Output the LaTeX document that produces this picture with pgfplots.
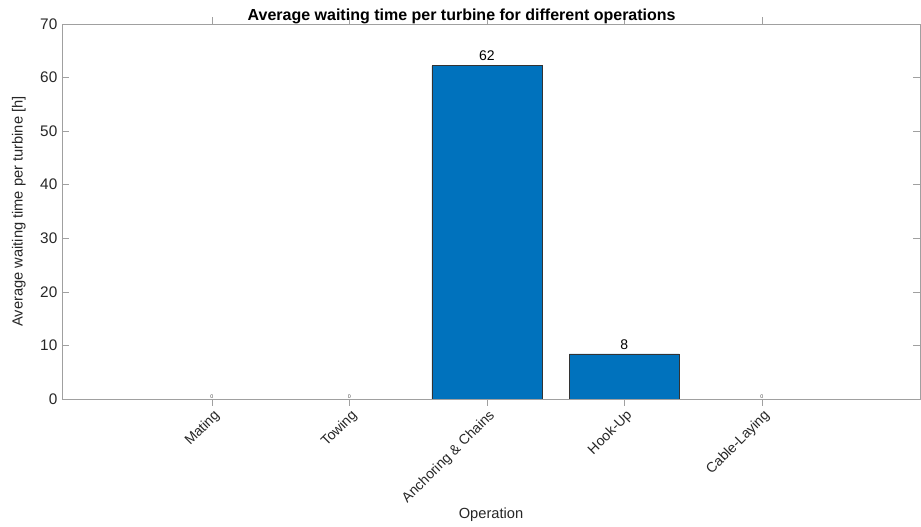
\documentclass[border=0pt]{standalone}
\usepackage{pgfplots}
\pgfplotsset{compat=1.18}
\usepackage{fontspec}
\setmainfont{Liberation Sans}
\definecolor{barblue}{HTML}{0072BD}
\definecolor{axgray}{HTML}{A0A0A0}
\definecolor{txt}{HTML}{262626}
\begin{document}
\begin{tikzpicture}
\begin{axis}[
  name=ax,
  scale only axis,
  width=643.5pt, height=281.25pt,
  xmin=-1.09, xmax=5.15,
  ymin=0, ymax=70,
  ytick={0,10,...,70},
  xtick={0,1,2,3,4},
  xticklabels={Mating,Towing,Anchoring \& Chains,Hook-Up,Cable-Laying},
  xticklabel style={rotate=45, anchor=north east, inner sep=1pt, yshift=-1pt, font=\fontsize{10.5}{12}\selectfont, text=txt},
  yticklabel style={font=\fontsize{11.5}{12}\selectfont, text=txt},
  /pgf/number format/assume math mode=true,
  tick align=inside,
  major tick length=5pt,
  axis line style={axgray},
  tick style={axgray},
  every tick/.style={axgray},
  title={\bfseries Average waiting time per turbine for different operations},
  title style={font=\fontsize{12}{13}\selectfont, yshift=-9.5pt, xshift=-22pt, text=black},
  xlabel={Operation},
  ylabel={Average waiting time per turbine [h]},
  xlabel style={font=\fontsize{11}{12}\selectfont, text=txt, yshift=3pt},
  ylabel style={font=\fontsize{11}{12}\selectfont, text=txt, yshift=4pt},
  ybar, bar width=0.8, bar shift=0pt,
]
\addplot[fill=barblue, draw=black!80, line width=0.5pt,
  nodes near coords, nodes near coords style={font=\fontsize{10.5}{12}\selectfont, text=black, /pgf/number format/.cd, fixed, precision=0, assume math mode=true}]
  coordinates {(2,62.2) (3,8.4)};
\addplot[fill=none, draw=none,
  nodes near coords, nodes near coords style={font=\fontsize{4}{4}\selectfont, text=black!70, inner sep=0.5pt, /pgf/number format/.cd, fixed, precision=0, assume math mode=true}]
  coordinates {(0,0) (1,0) (4,0)};
\end{axis}
\path[use as bounding box] ([xshift=-46.5pt, yshift=-93.75pt]ax.south west) rectangle ([xshift=0.75pt, yshift=18pt]ax.north east);
\end{tikzpicture}
\end{document}
